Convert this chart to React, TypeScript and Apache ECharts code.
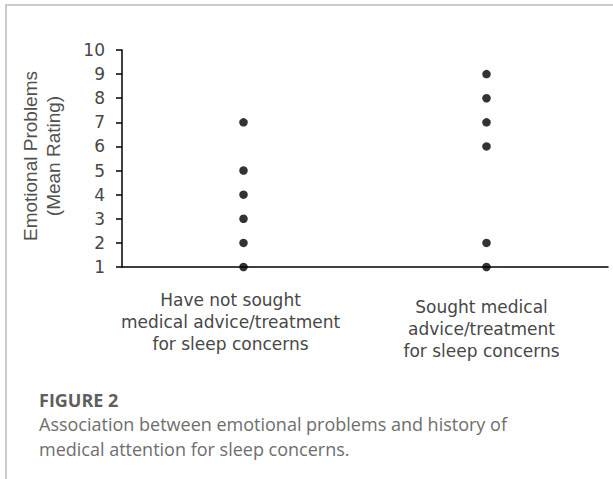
import React, { useEffect, useRef } from "react";
import * as echarts from "echarts";

const categories = [
  "Have not sought\nmedical advice/treatment\nfor sleep concerns",
  "Sought medical\nadvice/treatment\nfor sleep concerns",
];
const notSoughtRatings = [1, 2, 3, 4, 5, 7];
const soughtRatings = [1, 2, 6, 7, 8, 9];
const yTicks = { min: 1, max: 10, interval: 1 };
const yAxisTitle = "Emotional Problems\n(Mean Rating)";
const figureLabel = "FIGURE 2";
const captionLines = [
  "Association between emotional problems and history of",
  "medical attention for sleep concerns.",
];

export default function App() {
  const ref = useRef<HTMLDivElement>(null);
  useEffect(() => {
    if (!ref.current) return;
    const chart = echarts.init(ref.current, null, { renderer: "svg" });
    const points: [number, number][] = [
      ...notSoughtRatings.map((v) => [0, v] as [number, number]),
      ...soughtRatings.map((v) => [1, v] as [number, number]),
    ];
    const labelPads = [
      [0, 26, 0, 0],
      [7, 10, 0, 0],
    ];
    chart.setOption({
      animation: false,
      backgroundColor: "#ffffff",
      grid: { left: 122, right: 5, top: 50, bottom: 212, containLabel: false },
      xAxis: {
        type: "category",
        data: categories.map((c, i) => ({
          value: c,
          textStyle: { padding: labelPads[i] },
        })),
        boundaryGap: true,
        axisLine: { show: true, onZero: false, lineStyle: { color: "#000", width: 1.5 } },
        axisTick: { show: false },
        axisLabel: {
          interval: 0,
          margin: 22,
          fontFamily: "DejaVu Sans",
          fontSize: 17,
          lineHeight: 22,
          color: "#474747",
          align: "center",
        },
        splitLine: { show: false },
      },
      yAxis: {
        type: "value",
        min: yTicks.min,
        max: yTicks.max,
        interval: yTicks.interval,
        axisLine: { show: true, lineStyle: { color: "#000", width: 1.5 } },
        axisTick: { show: true, inside: false, length: 6, lineStyle: { color: "#000", width: 1.5 } },
        axisLabel: {
          margin: 17,
          fontFamily: "DejaVu Sans",
          fontSize: 17,
          color: "#474747",
        },
        splitLine: { show: false },
      },
      series: [
        {
          type: "scatter",
          data: points,
          symbol: "circle",
          symbolSize: 8.5,
          itemStyle: { color: "#000" },
          clip: false,
          z: 5,
        },
      ],
      graphic: [
        { type: "line", shape: { x1: 5, y1: 5, x2: 613, y2: 5 }, style: { stroke: "#cccccc", lineWidth: 2 } },
        { type: "line", shape: { x1: 6, y1: 5, x2: 6, y2: 479 }, style: { stroke: "#cccccc", lineWidth: 2 } },
        {
          type: "text",
          x: 42,
          y: 156,
          rotation: Math.PI / 2,
          style: {
            text: yAxisTitle,
            fontFamily: "Liberation Sans",
            fontSize: 19,
            lineHeight: 23,
            fill: "#505050",
            align: "center",
            verticalAlign: "middle",
          },
        },
        {
          type: "text",
          x: 39,
          y: 400,
          style: {
            text: figureLabel,
            fontFamily: "Open Sans",
            fontWeight: "bold",
            fontSize: 18,
            fill: "#5e5e5e",
            align: "left",
            verticalAlign: "middle",
          },
        },
        {
          type: "text",
          x: 39,
          y: 424,
          style: {
            text: captionLines[0],
            fontFamily: "Open Sans",
            fontSize: 18,
            fill: "#6e6e6e",
            align: "left",
            verticalAlign: "middle",
          },
        },
        {
          type: "text",
          x: 39,
          y: 449,
          style: {
            text: captionLines[1],
            fontFamily: "Open Sans",
            fontSize: 18,
            fill: "#6e6e6e",
            align: "left",
            verticalAlign: "middle",
          },
        },
      ],
    });
    return () => chart.dispose();
  }, []);
  return (
    <div
      ref={ref}
      style={{ position: "fixed", left: 0, top: 0, width: 613, height: 479, background: "#fff" }}
    />
  );
}
